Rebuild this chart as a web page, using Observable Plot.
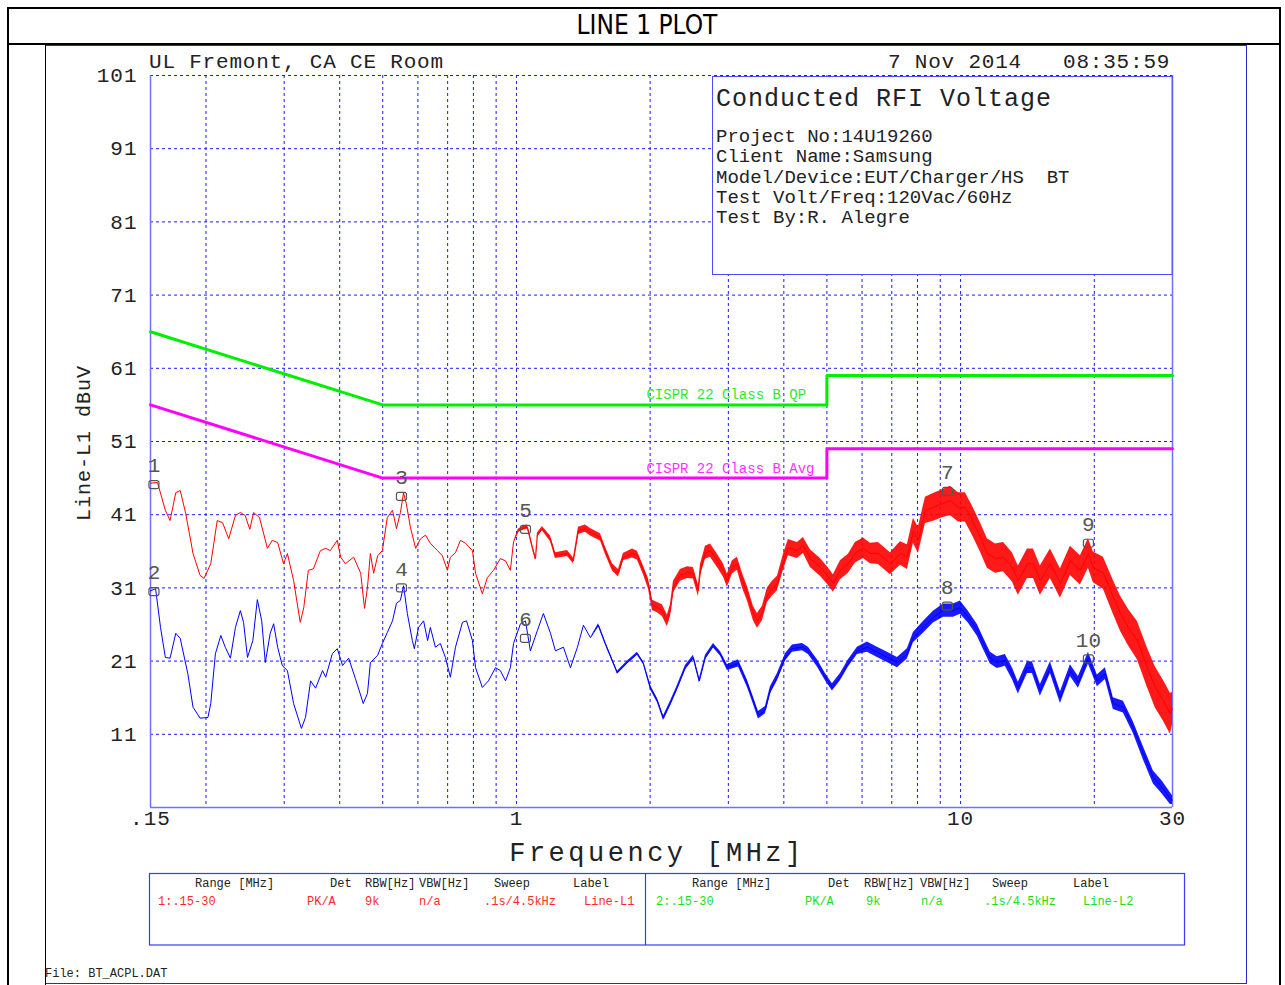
<!DOCTYPE html>
<html><head><meta charset="utf-8">
<script src="https://cdn.jsdelivr.net/npm/d3@7"></script>
<script src="https://cdn.jsdelivr.net/npm/@observablehq/plot@0.6"></script>
<style>
html,body{margin:0;padding:0;background:#fff;}
#wrap{position:relative;width:1285px;height:985px;overflow:hidden;background:#fff;}
#chart{position:absolute;left:0;top:0;}
#deco{position:absolute;left:0;top:0;pointer-events:none;}
.mono{font-family:"Liberation Mono","DejaVu Sans Mono",monospace;}
</style></head><body>
<div id="wrap">
<div id="chart"></div>
<svg id="deco" width="1285" height="985" xmlns="http://www.w3.org/2000/svg">
  <rect x="8" y="8" width="1272" height="1000" fill="none" stroke="#000" stroke-width="2"/>
  <line x1="8" y1="44" x2="1280" y2="44" stroke="#000" stroke-width="2"/>
  <text x="647" y="34" text-anchor="middle" font-family="'Liberation Sans Narrow','DejaVu Sans Condensed','Liberation Sans',sans-serif" font-size="26" fill="#000">LINE 1 PLOT</text>
  <rect x="45.5" y="45.5" width="1201" height="938" fill="none" stroke="#2a2acc" stroke-width="1"/>
  <line x1="45.5" y1="45" x2="45.5" y2="985" stroke="#000" stroke-width="1"/>
  <g class="mono" fill="#222" font-size="21" letter-spacing="0.8">
    <text x="149" y="68">UL Fremont, CA CE Room</text>
    <text x="888" y="68">7 Nov 2014</text>
    <text x="1063" y="68">08:35:59</text>
  </g>
  <rect x="712.5" y="76.5" width="459.5" height="198" fill="#fff" stroke="#4b4bff" stroke-width="1"/>
  <g class="mono" fill="#222">
    <text x="716" y="106" font-size="25" letter-spacing="1">Conducted RFI Voltage</text>
    <text x="716" y="142" font-size="19">Project No:14U19260</text>
    <text x="716" y="162" font-size="19">Client Name:Samsung</text>
    <text x="716" y="183" font-size="19">Model/Device:EUT/Charger/HS&#160;&#160;BT</text>
    <text x="716" y="203" font-size="19">Test Volt/Freq:120Vac/60Hz</text>
    <text x="716" y="223" font-size="19">Test By:R. Alegre</text>
  </g>
  <g class="mono" fill="#222">
    <text transform="translate(90,443) rotate(-90)" text-anchor="middle" font-size="20" letter-spacing="1">Line-L1 dBuV</text>
    <text x="657" y="861" text-anchor="middle" font-size="27" letter-spacing="3.5">Frequency [MHz]</text>
  </g>
  <rect x="149.5" y="873.5" width="1035" height="71.5" fill="none" stroke="#3a3aff" stroke-width="1.2"/>
  <line x1="645.5" y1="873.5" x2="645.5" y2="945" stroke="#3a3aff" stroke-width="1.2"/>
  <g class="mono" font-size="12" fill="#222">
    <text x="195" y="887">Range [MHz]</text>
    <text x="330" y="887">Det</text>
    <text x="365" y="887">RBW[Hz]</text>
    <text x="419" y="887">VBW[Hz]</text>
    <text x="494" y="887">Sweep</text>
    <text x="573" y="887">Label</text>
    <text x="692" y="887">Range [MHz]</text>
    <text x="828" y="887">Det</text>
    <text x="864" y="887">RBW[Hz]</text>
    <text x="920" y="887">VBW[Hz]</text>
    <text x="992" y="887">Sweep</text>
    <text x="1073" y="887">Label</text>
  </g>
  <g class="mono" font-size="12" fill="#ff2a2a">
    <text x="158" y="905">1:.15-30</text>
    <text x="307" y="905">PK/A</text>
    <text x="365" y="905">9k</text>
    <text x="419" y="905">n/a</text>
    <text x="484" y="905">.1s/4.5kHz</text>
    <text x="584" y="905">Line-L1</text>
  </g>
  <g class="mono" font-size="12" fill="#22dd22">
    <text x="656" y="905">2:.15-30</text>
    <text x="805" y="905">PK/A</text>
    <text x="866" y="905">9k</text>
    <text x="921" y="905">n/a</text>
    <text x="984" y="905">.1s/4.5kHz</text>
    <text x="1083" y="905">Line-L2</text>
  </g>
  <text class="mono" x="45" y="977" font-size="12" fill="#222">File: BT_ACPL.DAT</text>
</svg>
</div>
<script>
// ---- axis ticks ----
const freqTicks = [0.15, 1, 10, 30];
const freqTickLabels = [".15", "1", "10", "30"];
const freqGrid = [0.2,0.3,0.4,0.5,0.6,0.7,0.8,0.9,1,2,3,4,5,6,7,8,9,10,20];
const levelTicks = [11,21,31,41,51,61,71,81,91,101];

// ---- CISPR 22 class B limits ----
const limitFreq = [0.15, 0.5, 5, 5, 30];
const qpLimit   = [66, 56, 56, 60, 60];
const avgLimit  = [56, 46, 46, 50, 50];
const limitNames = ["CISPR 22 Class B QP", "CISPR 22 Class B Avg"];

// ---- Line L1 peak trace: [MHz, dBuV, noise half-band dB] ----
const peakTrace = [
[0.150,45.3,0],[0.1555,45.4,0],[0.162,41.6,0],[0.166,40.2,0],[0.171,44.0,0],[0.175,44.3,0],[0.180,41.2,0],
[0.187,35.7,0],[0.194,32.7,0],[0.198,32.3,0],[0.205,34.3,0],[0.212,40.2,0],[0.218,39.9,0],[0.225,37.7,0],
[0.233,40.9,0],[0.239,41.3,0],[0.245,40.9,0],[0.251,39.0,0],[0.256,41.3,0],[0.264,40.6,0],[0.275,36.4,0],
[0.282,37.5,0],[0.290,37.2,0],[0.299,34.3,0],[0.305,35.7,0],[0.315,32.0,0],[0.326,26.3,0],[0.332,28.3,0],
[0.340,33.4,0],[0.349,33.6,0],[0.362,36.1,0],[0.372,36.4,0],[0.381,36.1,0],[0.395,37.5,0],[0.402,35.2,0],
[0.412,34.3,0],[0.430,35.2,0],[0.446,33.0,0],[0.455,28.2,0],[0.462,31.1,0],[0.469,35.7,0],[0.477,33.0,0],
[0.487,35.4,0],[0.499,36.1,0],[0.512,40.6,0],[0.526,41.6,0],[0.537,39.1,0],[0.548,41.3,0],[0.557,44.0,0],
[0.565,42.5,0],[0.577,39.3,0],[0.593,36.4,0],[0.608,37.7,0],[0.624,38.2,0],[0.640,37.1,0],[0.664,36.1,0],
[0.681,35.4,0],[0.699,33.4,0],[0.710,35.2,0],[0.729,35.8,0],[0.748,37.5,0],[0.768,37.1,0],[0.796,36.1,0],
[0.809,33.0,0],[0.838,30.2,0],[0.860,32.4,0],[0.888,33.4,0],[0.920,35.0,0],[0.945,34.7,0],[0.969,33.4,0],
[0.985,37.3,0],[1.010,38.8,0.2],[1.040,39.2,0.3],[1.059,39.3,0.3],[1.087,36.5,0.3],[1.104,35.0,0.3],
[1.115,38.2,0.3],[1.144,39.1,0.3],[1.193,37.7,0.4],[1.224,35.4,0.4],[1.303,35.7,0.4],[1.344,34.7,0.4],
[1.379,38.8,0.5],[1.430,39.1,0.5],[1.468,38.6,0.5],[1.546,37.9,0.5],[1.586,36.1,0.5],[1.645,33.8,0.5],
[1.697,33.0,0.5],[1.741,35.2,0.5],[1.825,35.7,0.6],[1.872,35.4,0.6],[1.932,33.4,0.6],[1.982,31.6,0.7],
[2.024,28.6,0.7],[2.077,28.3,0.7],[2.131,27.9,0.8],[2.187,26.5,0.8],[2.222,27.9,0.8],[2.257,31.1,0.8],
[2.340,32.7,0.8],[2.426,33.1,0.8],[2.503,33.0,0.8],[2.569,30.6,0.8],[2.596,33.4,0.8],[2.664,35.8,0.9],
[2.734,36.1,0.9],[2.835,34.7,0.9],[2.924,33.4,0.9],[2.985,32.0,0.9],[3.064,33.8,0.9],[3.144,34.3,0.9],
[3.227,32.0,1.0],[3.312,30.2,1.0],[3.416,27.5,1.0],[3.488,26.5,1.0],[3.579,27.5,1.0],[3.673,30.0,1.0],
[3.770,30.9,1.0],[3.869,31.6,1.0],[3.991,34.5,1.1],[4.096,36.5,1.1],[4.291,36.1,1.1],[4.427,36.8,1.1],
[4.590,35.0,1.2],[4.834,33.8,1.2],[5.013,32.7,1.2],[5.172,31.6,1.2],[5.363,33.4,1.3],[5.590,34.3,1.3],
[5.796,35.8,1.4],[6.042,36.4,1.4],[6.265,35.7,1.4],[6.531,35.7,1.5],[6.950,34.3,1.5],[7.320,35.7,1.6],
[7.590,35.2,1.7],[7.830,38.8,1.7],[8.035,37.5,1.8],[8.333,41.6,1.8],[8.686,42.0,1.9],[9.100,42.5,1.9],
[9.486,42.9,2.0],[9.887,42.0,2.0],[10.25,42.0,2.0],[10.63,40.2,2.0],[11.08,37.9,2.0],[11.49,35.7,2.0],
[11.98,35.0,2.0],[12.49,35.2,2.0],[13.08,33.8,2.0],[13.49,32.0,2.0],[14.14,34.3,2.0],[14.59,34.3,2.0],
[15.12,32.0,2.0],[15.93,34.3,2.0],[16.78,31.6,2.0],[17.67,34.7,2.0],[18.61,33.4,2.0],[19.40,35.7,2.0],
[19.91,33.8,2.1],[20.97,33.0,2.2],[22.08,29.7,2.3],[22.90,27.5,2.4],[23.87,25.6,2.5],[25.01,23.8,2.6],
[26.34,20.1,2.7],[27.45,17.4,2.8],[28.61,15.6,2.8],[29.67,13.8,2.8],[30.0,14.5,2.2]
];

// ---- Line L1 average trace: [MHz, dBuV, noise half-band dB] ----
const avgTrace = [
[0.150,30.6,0],[0.154,30.9,0],[0.158,25.6,0],[0.162,21.5,0],[0.166,21.4,0],[0.171,24.8,0],[0.175,24.1,0],
[0.182,19.3,0],[0.187,14.7,0],[0.194,13.2,0],[0.202,13.3,0],[0.205,15.2,0],[0.210,22.0,0],[0.216,24.5,0],
[0.221,22.9,0],[0.227,21.4,0],[0.233,25.6,0],[0.239,27.9,0],[0.243,26.3,0],[0.248,21.5,0],[0.255,23.8,0],
[0.261,29.4,0],[0.267,26.5,0],[0.272,20.8,0],[0.279,24.8,0],[0.284,26.1,0],[0.290,22.9,0],[0.297,20.4,0],
[0.305,19.7,0],[0.315,15.2,0],[0.328,11.8,0],[0.335,13.3,0],[0.344,18.3,0],[0.353,17.3,0],[0.366,19.7,0],
[0.372,18.8,0],[0.385,22.0,0],[0.395,22.7,0],[0.406,20.4,0],[0.419,21.4,0],[0.434,18.6,0],[0.452,15.2,0],
[0.462,16.6,0],[0.469,20.8,0],[0.487,21.8,0],[0.499,23.4,0],[0.512,24.9,0],[0.526,26.5,0],[0.537,28.9,0],
[0.548,29.3,0],[0.557,31.3,0],[0.568,27.5,0],[0.583,23.8,0],[0.589,22.7,0],[0.602,25.6,0],[0.618,26.5,0],
[0.631,23.8,0],[0.640,25.6,0],[0.657,22.9,0],[0.674,23.4,0],[0.692,21.5,0],[0.710,18.8,0],[0.729,22.9,0],
[0.756,26.3,0],[0.772,26.5,0],[0.796,23.8,0],[0.809,20.1,0],[0.838,17.4,0],[0.865,18.3,0],[0.897,20.1,0],
[0.920,19.7,0],[0.945,18.3,0],[0.969,20.1,0],[0.985,23.4,0],[1.021,26.1,0],[1.048,26.5,0],[1.075,22.4,0],
[1.115,25.2,0],[1.150,27.5,0],[1.193,24.8,0],[1.224,22.4,0],[1.276,22.9,0],[1.323,20.1,0],[1.372,22.9,0],
[1.415,25.9,0],[1.468,24.2,0],[1.530,25.9,0.2],[1.586,23.4,0.2],[1.688,19.4,0.2],[1.778,20.8,0.2],
[1.872,22.0,0.2],[1.932,20.7,0.2],[2.003,17.4,0.3],[2.077,15.6,0.3],[2.143,13.2,0.3],[2.222,15.2,0.3],
[2.304,17.4,0.3],[2.401,20.1,0.3],[2.503,21.5,0.3],[2.582,18.3,0.3],[2.664,21.5,0.3],[2.777,23.1,0.3],
[2.879,22.0,0.3],[2.985,20.1,0.4],[3.161,20.7,0.5],[3.312,17.9,0.5],[3.416,15.6,0.5],[3.506,13.6,0.5],
[3.635,14.3,0.5],[3.731,17.0,0.5],[3.869,18.8,0.5],[4.033,21.5,0.5],[4.182,22.7,0.5],[4.404,22.9,0.5],
[4.543,22.4,0.5],[4.760,20.7,0.5],[4.962,18.8,0.5],[5.145,17.4,0.5],[5.363,18.8,0.5],[5.590,20.7,0.5],
[5.857,22.4,0.5],[6.168,22.9,0.7],[6.497,22.2,0.7],[6.842,21.5,0.7],[7.207,20.8,0.7],[7.590,22.0,0.7],
[7.830,24.2,0.7],[8.246,25.6,0.8],[8.686,27.0,0.8],[9.147,27.9,0.9],[9.634,27.9,0.9],[9.990,28.3,0.9],
[10.41,27.0,0.8],[10.91,25.2,0.8],[11.26,23.4,0.8],[11.67,21.4,0.8],[12.10,20.8,0.8],[12.61,21.1,0.8],
[13.08,19.3,0.8],[13.49,17.3,0.8],[14.14,20.1,0.8],[14.51,20.1,0.8],[15.12,17.0,0.8],[15.93,20.1,0.8],
[16.78,16.0,0.8],[17.67,19.7,0.8],[18.42,18.1,0.8],[19.40,21.4,0.8],[20.32,18.3,0.8],[21.18,19.3,0.8],
[22.08,15.2,0.8],[23.26,14.7,0.8],[24.49,11.9,0.8],[25.80,8.4,0.9],[27.17,5.1,0.9],[28.47,3.7,0.9],
[29.67,2.2,0.8],[30.0,2.0,0.6]
];

// ---- markers ----
const markerNo    = ["1","2","3","4","5","6","7","8","9","10"];
const markerFreq  = [0.1527,0.1527,0.551,0.551,1.048,1.048,9.34,9.34,19.4,19.4];
const markerLevel = [45.1,30.5,43.5,31.0,39.0,24.1,44.2,28.5,37.1,21.3];

// ---- build tables ----
const toRows = arr => arr.map(([f, v, s]) => ({f, v, lo: v - s, hi: v + s}));
const peak = toRows(peakTrace);
const avg = toRows(avgTrace);
const qp = limitFreq.map((f, i) => ({f, v: qpLimit[i]}));
const av = limitFreq.map((f, i) => ({f, v: avgLimit[i]}));
const limitText = [
  {f: 1.962, v: qpLimit[1], t: limitNames[0], c: "#33e633"},
  {f: 1.962, v: avgLimit[1], t: limitNames[1], c: "#ff33ff"}
];
const markers = markerNo.map((n, i) => ({n, f: markerFreq[i], v: markerLevel[i]}));

const roundBox = {
  draw(ctx) {
    const w = 5, h = 4, r = 2;
    ctx.moveTo(-w + r, -h); ctx.lineTo(w - r, -h); ctx.arcTo(w, -h, w, -h + r, r);
    ctx.lineTo(w, h - r); ctx.arcTo(w, h, w - r, h, r);
    ctx.lineTo(-w + r, h); ctx.arcTo(-w, h, -w, h - r, r);
    ctx.lineTo(-w, -h + r); ctx.arcTo(-w, -h, -w + r, -h, r);
    ctx.closePath();
  }
};

const gridStyle = {stroke: "#1a1aff", strokeOpacity: 1, strokeWidth: 1, strokeDasharray: "3,3"};

const chart = Plot.plot({
  width: 1285, height: 985,
  marginTop: 75, marginLeft: 150, marginRight: 113, marginBottom: 178,
  style: {fontFamily: '"Liberation Mono","DejaVu Sans Mono",monospace', background: "transparent", color: "#222"},
  x: {type: "log", domain: [0.15, 30], axis: null},
  y: {domain: [1, 101], axis: null},
  marks: [
    Plot.gridX(freqGrid, gridStyle),
    Plot.gridY(levelTicks, gridStyle),
    Plot.ruleX([0.15, 30], {stroke: "#7070ff", strokeWidth: 1.5}),
    Plot.ruleY([1], {stroke: "#7070ff", strokeWidth: 1.5}),
    Plot.axisY(levelTicks, {tickSize: 0, tickPadding: 13, fontSize: 21, label: null}),
    Plot.axisX(freqTicks, {tickSize: 0, tickPadding: 3, fontSize: 21, label: null,
      tickFormat: d => freqTickLabels[freqTicks.indexOf(d)]}),
    Plot.line(qp, {x: "f", y: "v", stroke: "#00ee00", strokeWidth: 3}),
    Plot.line(av, {x: "f", y: "v", stroke: "#ff00ff", strokeWidth: 3}),
    Plot.text(limitText, {x: "f", y: "v", text: "t", fill: "c", textAnchor: "start", dy: -10, fontSize: 14}),
    Plot.areaY(peak, {x: "f", y1: "lo", y2: "hi", fill: "#ff0000", fillOpacity: 0.9}),
    Plot.line(peak, {x: "f", y: "v", stroke: "#ff0000", strokeWidth: 1}),
    Plot.areaY(avg, {x: "f", y1: "lo", y2: "hi", fill: "#0000ff", fillOpacity: 0.9}),
    Plot.line(avg, {x: "f", y: "v", stroke: "#0000ff", strokeWidth: 1}),
    Plot.dot(markers, {x: "f", y: "v", symbol: roundBox, r: 4, stroke: "#555", strokeWidth: 1.2, fill: "none"}),
    Plot.text(markers, {x: "f", y: "v", text: "n", dy: -19, fontSize: 21, fill: "#555"})
  ]
});
document.getElementById("chart").appendChild(chart);
d3.select(chart).selectAll('g[aria-label="y-axis tick label"] text, g[aria-label="x-axis tick label"] text').style("letter-spacing", "1px");
</script>
</body></html>
